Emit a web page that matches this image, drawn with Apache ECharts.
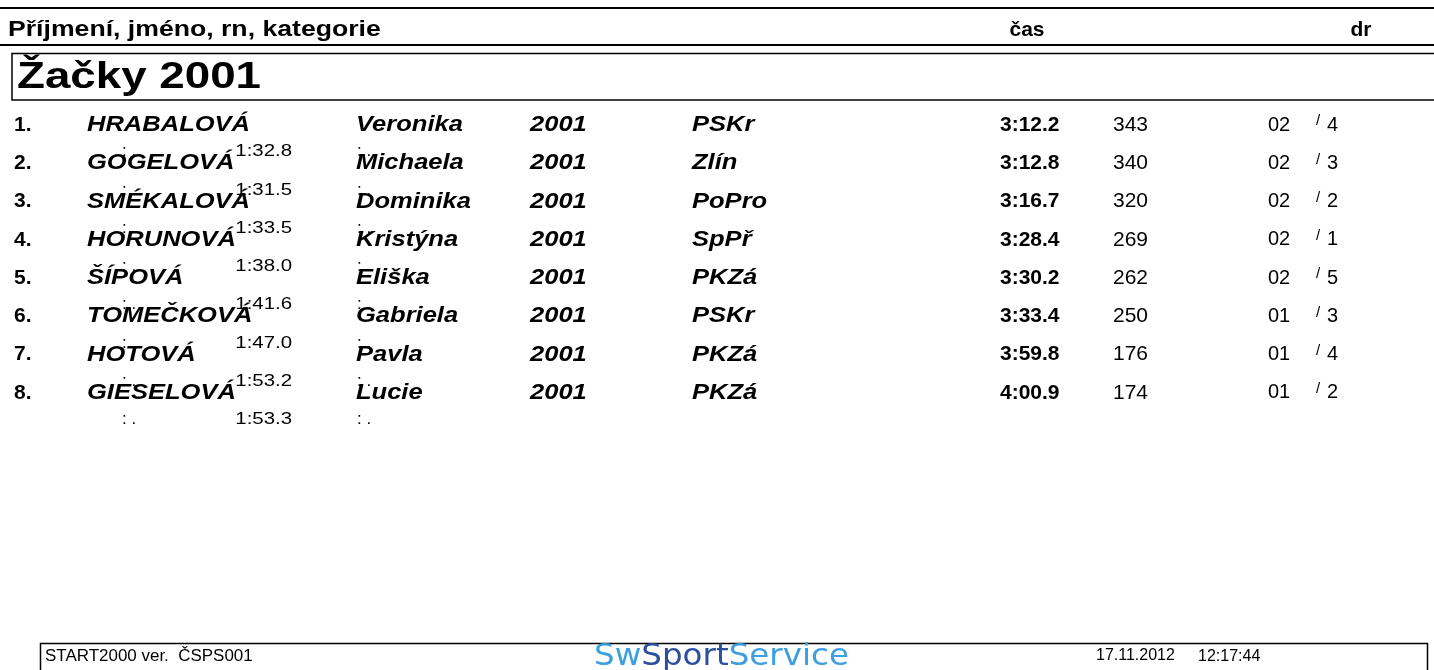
<!DOCTYPE html>
<html><head><meta charset="utf-8">
<script src="https://cdn.jsdelivr.net/npm/echarts@6/dist/echarts.min.js"></script>
<style>html,body{margin:0;padding:0;background:#fff}#c{width:1434px;height:670px}</style>
</head><body><div id="c"></div>
<script>
// ---- data ----
const headerLabels = ['Příjmení, jméno, rn, kategorie', 'čas', 'dr'];
const categoryTitle = 'Žačky 2001';
const ranks = ['1.', '2.', '3.', '4.', '5.', '6.', '7.', '8.'];
const surnames = ['HRABALOVÁ', 'GOGELOVÁ', 'SMÉKALOVÁ', 'HORUNOVÁ', 'ŠÍPOVÁ', 'TOMEČKOVÁ', 'HOTOVÁ', 'GIESELOVÁ'];
const firstNames = ['Veronika', 'Michaela', 'Dominika', 'Kristýna', 'Eliška', 'Gabriela', 'Pavla', 'Lucie'];
const birthYears = ['2001', '2001', '2001', '2001', '2001', '2001', '2001', '2001'];
const clubs = ['PSKr', 'Zlín', 'PoPro', 'SpPř', 'PKZá', 'PSKr', 'PKZá', 'PKZá'];
const times = ['3:12.2', '3:12.8', '3:16.7', '3:28.4', '3:30.2', '3:33.4', '3:59.8', '4:00.9'];
const points = [343, 340, 320, 269, 262, 250, 176, 174];
const heats = ['02', '02', '02', '02', '02', '01', '01', '01'];
const lanes = [4, 3, 2, 1, 5, 3, 4, 2];
const splits = ['1:32.8', '1:31.5', '1:33.5', '1:38.0', '1:41.6', '1:47.0', '1:53.2', '1:53.3'];
const emptySplit = ': .';
const footerTexts = ['START2000 ver.  ČSPS001', '17.11.2012', '12:17:44'];
const logoParts = ['Sw', 'Sport', 'Service'];

// ---- layout (positions/styles only) ----
const FONT = '"Liberation Sans", Arial, sans-serif';
const col = { rank: 14, surname: 87, first: 356, year: 530, club: 692, time: 1000, pts: 1113, heat: 1268, slash: 1316, lane: 1327, sub1: 122, sub2: 292, sub3: 357 };

const chart = echarts.init(document.getElementById('c'), null, { renderer: 'canvas' });

function txt(x, y, text, font, align, sx, fill) {
  return {
    type: 'text', x: x, y: y, scaleX: sx || 1,
    style: { text: String(text), fill: fill || '#000', font: font, textAlign: align || 'left', textVerticalAlign: 'middle' }
  };
}

const rowIdx = ranks.map((r, i) => [i]);

chart.setOption({
  animation: false,
  grid: { left: 0, right: 0, top: 119, bottom: 245 },
  xAxis: { type: 'value', min: 0, max: 1434, show: false },
  yAxis: { type: 'category', data: ranks, inverse: true, show: false },
  series: [{
    type: 'custom',
    data: rowIdx,
    encode: { y: 0 },
    renderItem: function (params, api) {
      const i = api.value(0);
      const c = api.coord([0, i]);
      const yMain = c[1] - 13, ySub = c[1] + 13.5;
      const X = k => api.coord([col[k], i])[0];
      const bi = 'italic bold 22px ' + FONT;
      const b = 'bold 21px ' + FONT;
      const r = '21px ' + FONT;
      const s = '17px ' + FONT;
      const NS = 1.16;
      return {
        type: 'group',
        children: [
          txt(X('rank'), yMain, ranks[i], b),
          txt(X('surname'), yMain, surnames[i], bi, 'left', NS),
          txt(X('first'), yMain, firstNames[i], bi, 'left', NS),
          txt(X('year'), yMain, birthYears[i], bi, 'left', NS),
          txt(X('club'), yMain, clubs[i], bi, 'left', NS),
          txt(X('time'), yMain, times[i], b),
          txt(X('pts'), yMain, points[i], r),
          txt(X('heat'), yMain, heats[i], '20px ' + FONT),
          txt(X('slash'), yMain - 4, '/', '15px ' + FONT),
          txt(X('lane'), yMain, lanes[i], '20px ' + FONT),
          txt(X('sub1'), ySub, emptySplit, s),
          txt(X('sub2'), ySub, splits[i], s, 'right', 1.2),
          txt(X('sub3'), ySub, emptySplit, s)
        ]
      };
    }
  }],
  graphic: [
    { type: 'line', shape: { x1: 0, y1: 8, x2: 1434, y2: 8 }, style: { stroke: '#000', lineWidth: 2 } },
    txt(8, 30, headerLabels[0], 'bold 22px ' + FONT, 'left', 1.21),
    txt(1027, 30, headerLabels[1], 'bold 21px ' + FONT, 'center'),
    txt(1361, 30, headerLabels[2], 'bold 21px ' + FONT, 'center'),
    { type: 'line', shape: { x1: 0, y1: 45, x2: 1434, y2: 45 }, style: { stroke: '#000', lineWidth: 2 } },
    { type: 'rect', shape: { x: 12, y: 53.5, width: 1440, height: 46.5 }, style: { fill: 'none', stroke: '#000', lineWidth: 1.5 } },
    txt(17, 78, categoryTitle, 'bold 36px ' + FONT, 'left', 1.27),
    { type: 'rect', shape: { x: 40.5, y: 643.5, width: 1387, height: 40 }, style: { fill: 'none', stroke: '#000', lineWidth: 1.5 } },
    txt(45, 657, footerTexts[0], '16px ' + FONT, 'left', 1.06),
    txt(1096, 656, footerTexts[1], '16px ' + FONT),
    txt(1198, 657, footerTexts[2], '16px ' + FONT),
    { type: 'text', x: 594, y: 657, scaleX: 1.05, style: { rich: { a: { fill: '#3b9fe0', font: '31px "DejaVu Sans", sans-serif' }, b: { fill: '#2b4f9f', font: '31px "DejaVu Sans", sans-serif' } }, text: '{a|' + logoParts[0] + '}{b|' + logoParts[1] + '}{a|' + logoParts[2] + '}', textVerticalAlign: 'middle' } }
  ]
});
</script></body></html>
